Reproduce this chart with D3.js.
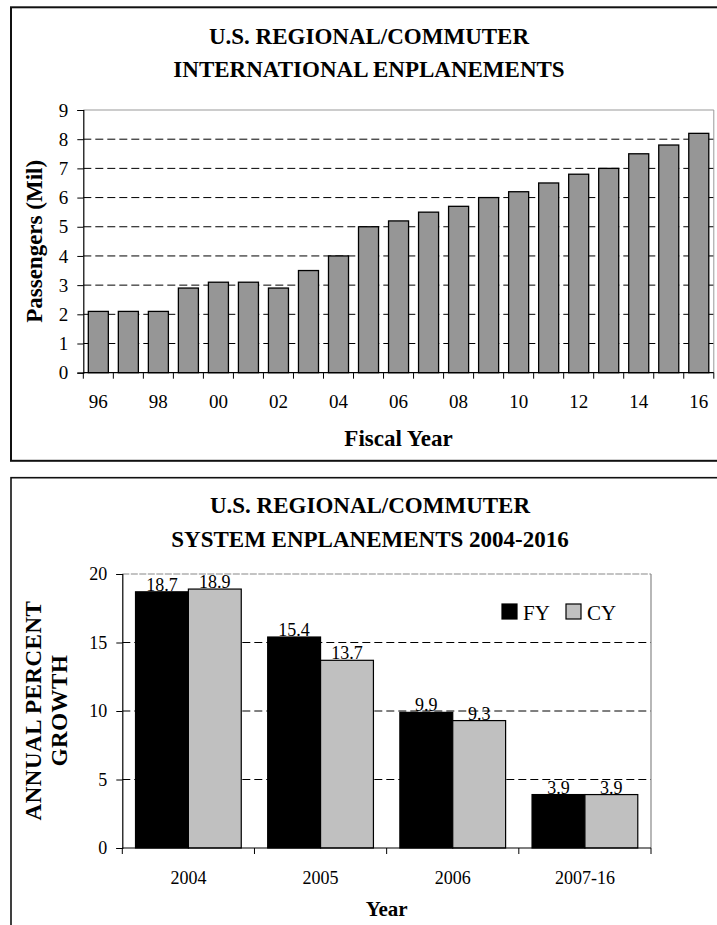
<!DOCTYPE html>
<html>
<head>
<meta charset="utf-8">
<script src="https://cdn.jsdelivr.net/npm/d3@7"></script>
<style>
  html, body { margin: 0; padding: 0; background: #fff; }
  svg { display: block; font-family: "Liberation Serif", "Times New Roman", serif; }
</style>
</head>
<body>
<svg id="chart" width="717" height="925"></svg>
<script>
// ---------- Data ----------
const topYears = ["96","97","98","99","00","01","02","03","04","05","06","07","08","09","10","11","12","13","14","15","16"];
const topValues = [2.1, 2.1, 2.1, 2.9, 3.1, 3.1, 2.9, 3.5, 4.0, 5.0, 5.2, 5.5, 5.7, 6.0, 6.2, 6.5, 6.8, 7.0, 7.5, 7.8, 8.2];
const topTickLabels = ["96","98","00","02","04","06","08","10","12","14","16"];
const topYTicks = [0,1,2,3,4,5,6,7,8,9];

const botCategories = ["2004","2005","2006","2007-16"];
const botSeries = ["FY","CY"];
const fyValues = [18.7, 15.4, 9.9, 3.9];
const cyValues = [18.9, 13.7, 9.3, 3.9];
const botYTicks = [0,5,10,15,20];

const svg = d3.select("#chart");
svg.append("rect").attr("width",717).attr("height",925).attr("fill","#fff");

// ---------- Frames ----------
svg.append("rect").attr("x",11).attr("y",7.3).attr("width",720).attr("height",453.5)
  .attr("fill","none").attr("stroke","#111").attr("stroke-width",2);
svg.append("rect").attr("x",11).attr("y",477.7).attr("width",720).attr("height",460)
  .attr("fill","none").attr("stroke","#111").attr("stroke-width",1.6);

// ================= TOP CHART =================
{
  const g = svg.append("g");
  const x = d3.scaleBand().domain(topYears).range([83.3, 713.8]).paddingInner(0.333).paddingOuter(0.167);
  const y = d3.scaleLinear().domain([0, 9]).range([372.7, 110]);
  const L = 83.3, R = 713.8;

  g.append("text").attr("x",369).attr("y",43.5).attr("text-anchor","middle")
    .attr("font-weight","bold").attr("font-size",23).text("U.S. REGIONAL/COMMUTER");
  g.append("text").attr("x",369).attr("y",76.5).attr("text-anchor","middle")
    .attr("font-weight","bold").attr("font-size",23).text("INTERNATIONAL ENPLANEMENTS");

  g.selectAll("line.grid").data(topYTicks.filter(d => d > 0 && d < 9)).enter().append("line")
    .attr("x1",L).attr("x2",R).attr("y1",d => y(d)).attr("y2",d => y(d))
    .attr("stroke","#000").attr("stroke-width",1).attr("stroke-dasharray","8,4");
  g.append("line").attr("x1",L).attr("x2",R).attr("y1",y(9)).attr("y2",y(9)).attr("stroke","#999").attr("stroke-width",1);
  g.append("line").attr("x1",R).attr("x2",R).attr("y1",y(9)).attr("y2",y(0)).attr("stroke","#999").attr("stroke-width",1);

  g.selectAll("rect.bar").data(topYears).enter().append("rect")
    .attr("x", d => x(d)).attr("width", x.bandwidth())
    .attr("y", (d,i) => y(topValues[i])).attr("height", (d,i) => y(0) - y(topValues[i]))
    .attr("fill","#969696").attr("stroke","#000").attr("stroke-width",1.3);

  const yAxis = d3.axisLeft(y).tickValues(topYTicks).tickSize(6).tickPadding(9).tickFormat(d3.format("d"));
  const ya = g.append("g").attr("transform",`translate(${L},0)`).call(yAxis);
  ya.attr("font-family",null);
  ya.select(".domain").attr("stroke","#000").attr("stroke-width",1.2);
  ya.selectAll(".tick line").attr("stroke","#000");
  ya.selectAll(".tick text").attr("font-size",19).attr("fill","#000");

  g.append("line").attr("x1",L).attr("x2",R).attr("y1",y(0)).attr("y2",y(0)).attr("stroke","#000").attr("stroke-width",1.2);
  const bounds = topYears.map(d => x(d) - x.step()*x.paddingInner()/2).concat([R]);
  g.selectAll("line.xt").data(bounds).enter().append("line")
    .attr("x1",d => d).attr("x2",d => d).attr("y1",y(0)).attr("y2",y(0)+6).attr("stroke","#000");
  g.selectAll("text.xl").data(topTickLabels).enter().append("text")
    .attr("x", d => x(d) + x.bandwidth()/2).attr("y",408).attr("text-anchor","middle")
    .attr("font-size",19).text(d => d);

  g.append("text").attr("transform",`translate(42,${(y(0)+y(9))/2}) rotate(-90)`)
    .attr("text-anchor","middle").attr("font-weight","bold").attr("font-size",23).text("Passengers (Mil)");
  g.append("text").attr("x",(L+R)/2).attr("y",446).attr("text-anchor","middle")
    .attr("font-weight","bold").attr("font-size",23).text("Fiscal Year");
}

// ================= BOTTOM CHART =================
{
  const g = svg.append("g");
  const L = 122.3, R = 651;
  const x0 = d3.scaleBand().domain(botCategories).range([L, R]).paddingInner(0.2).paddingOuter(0.1);
  const x1 = d3.scaleBand().domain(botSeries).range([0, x0.bandwidth()]);
  const y = d3.scaleLinear().domain([0, 20]).range([848, 574]);
  const color = d3.scaleOrdinal().domain(botSeries).range(["#000000","#c0c0c0"]);

  g.append("text").attr("x",370).attr("y",512.5).attr("text-anchor","middle")
    .attr("font-weight","bold").attr("font-size",23).text("U.S. REGIONAL/COMMUTER");
  g.append("text").attr("x",370).attr("y",546.5).attr("text-anchor","middle")
    .attr("font-weight","bold").attr("font-size",23).text("SYSTEM ENPLANEMENTS 2004-2016");

  g.selectAll("line.grid").data(botYTicks.filter(d => d > 0 && d < 20)).enter().append("line")
    .attr("x1",L).attr("x2",R).attr("y1",d => y(d)).attr("y2",d => y(d))
    .attr("stroke","#000").attr("stroke-width",1).attr("stroke-dasharray","8,4");
  g.append("line").attr("x1",L).attr("x2",R).attr("y1",y(20)).attr("y2",y(20))
    .attr("stroke","#888").attr("stroke-width",1.2).attr("stroke-dasharray","7,1.5");
  g.append("line").attr("x1",R).attr("x2",R).attr("y1",y(20)).attr("y2",y(0)).attr("stroke","#888").attr("stroke-width",1.2);

  const rows = botCategories.map((c,i) => ({cat:c, vals:[{s:"FY",v:fyValues[i]},{s:"CY",v:cyValues[i]}]}));
  const grp = g.selectAll("g.grp").data(rows).enter().append("g")
    .attr("transform", d => `translate(${x0(d.cat)},0)`);
  grp.selectAll("rect").data(d => d.vals).enter().append("rect")
    .attr("x", d => x1(d.s)).attr("width", x1.bandwidth())
    .attr("y", d => y(d.v)).attr("height", d => y(0) - y(d.v))
    .attr("fill", d => color(d.s)).attr("stroke","#000").attr("stroke-width",1.2);
  grp.selectAll("text").data(d => d.vals).enter().append("text")
    .attr("x", d => x1(d.s) + x1.bandwidth()/2).attr("y", d => y(d.v) - 1)
    .attr("text-anchor","middle").attr("font-size",18).text(d => d3.format(".1f")(d.v));

  const yAxis = d3.axisLeft(y).tickValues(botYTicks).tickSize(6).tickPadding(9).tickFormat(d3.format("d"));
  const ya = g.append("g").attr("transform",`translate(${L},0)`).call(yAxis);
  ya.attr("font-family",null);
  ya.select(".domain").attr("stroke","#000").attr("stroke-width",1.2);
  ya.selectAll(".tick line").attr("stroke","#000");
  ya.selectAll(".tick text").attr("font-size",18).attr("fill","#000");

  g.append("line").attr("x1",L).attr("x2",R).attr("y1",y(0)).attr("y2",y(0)).attr("stroke","#000").attr("stroke-width",1.2);
  const bounds = botCategories.map(d => x0(d) - x0.step()*x0.paddingInner()/2).concat([R]);
  g.selectAll("line.xt").data(bounds).enter().append("line")
    .attr("x1",d => d).attr("x2",d => d).attr("y1",y(0)).attr("y2",y(0)+6).attr("stroke","#000");
  g.selectAll("text.xl").data(botCategories).enter().append("text")
    .attr("x", d => x0(d) + x0.bandwidth()/2).attr("y",884).attr("text-anchor","middle")
    .attr("font-size",18).text(d => d);

  const leg = g.append("g");
  const legX = [502, 566];
  botSeries.forEach((s,i) => {
    leg.append("rect").attr("x",legX[i]).attr("y",604).attr("width",15).attr("height",15)
      .attr("fill",color(s)).attr("stroke","#000").attr("stroke-width",1.2);
    leg.append("text").attr("x",legX[i]+21).attr("y",620).attr("font-size",21).text(s);
  });

  g.append("text").attr("transform",`translate(41,710.5) rotate(-90)`)
    .attr("text-anchor","middle").attr("font-weight","bold").attr("font-size",23)
    .attr("letter-spacing",0.5).text("ANNUAL PERCENT");
  g.append("text").attr("transform",`translate(67,710.5) rotate(-90)`)
    .attr("text-anchor","middle").attr("font-weight","bold").attr("font-size",23)
    .attr("letter-spacing",0.5).text("GROWTH");
  g.append("text").attr("x",(L+R)/2).attr("y",916).attr("text-anchor","middle")
    .attr("font-weight","bold").attr("font-size",21).text("Year");
}

svg.selectAll("text").attr("font-family","'Liberation Serif', 'Times New Roman', serif");
</script>
</body>
</html>
